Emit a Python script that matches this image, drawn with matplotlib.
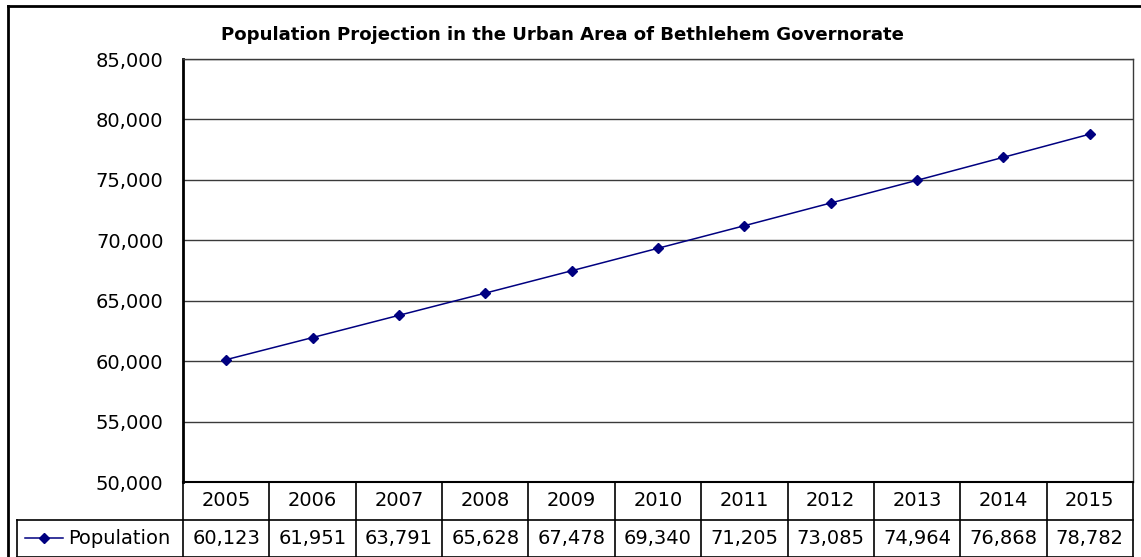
import matplotlib
matplotlib.use("Agg")
import matplotlib.pyplot as plt
from matplotlib.lines import Line2D
from matplotlib.transforms import blended_transform_factory

years = ["2005", "2006", "2007", "2008", "2009", "2010",
         "2011", "2012", "2013", "2014", "2015"]
population = [60123, 61951, 63791, 65628, 67478, 69340,
              71205, 73085, 74964, 76868, 78782]
series_name = "Population"
title = "Population Projection in the Urban Area of Bethlehem Governorate"
y_ticks = [50000, 55000, 60000, 65000, 70000, 75000, 80000, 85000]

W, H = 1141, 557
fig = plt.figure(figsize=(W / 100, H / 100), dpi=100)
plt.rcParams["font.family"] = ["DejaVu Sans"]
FS = 14

# plot area in pixel coordinates
L, R, T, B = 183, 1133, 59, 482
ax = fig.add_axes([L / W, 1 - B / H, (R - L) / W, (B - T) / H])

line_col = "#000080"
x = list(range(len(years)))
ax.plot(x, population, color=line_col, lw=1.1, marker="D", ms=5,
        markerfacecolor=line_col, markeredgecolor=line_col)

ax.set_xlim(-0.5, len(years) - 0.5)
ax.set_ylim(y_ticks[0], y_ticks[-1])
ax.set_yticks(y_ticks)
ax.set_yticklabels([f"{v:,}" for v in y_ticks], fontsize=FS)
ax.tick_params(axis="y", length=0, pad=14)
ax.set_xticks([])
for v in y_ticks[1:]:
    ax.axhline(v, color="#3a3a3a", lw=1.0, zorder=0)

for side in ("top", "right"):
    ax.spines[side].set_color("#3a3a3a")
    ax.spines[side].set_linewidth(1.0)
ax.spines["left"].set_linewidth(2.0)
ax.spines["left"].set_color("black")
ax.spines["bottom"].set_linewidth(1.5)
ax.spines["bottom"].set_color("black")

# data table below the plot area
row_h = 37.5 / (B - T)
tr = blended_transform_factory(ax.transData, ax.transAxes)
tr_ax = ax.transAxes
lw_t = 1.2
n = len(years)
x_leg = -(L - 17) / (R - L)
# horizontal rules
ax.add_line(Line2D([x_leg, 1], [-row_h, -row_h], transform=tr_ax,
                   color="black", lw=lw_t, clip_on=False))
ax.add_line(Line2D([x_leg, 1], [-2 * row_h, -2 * row_h], transform=tr_ax,
                   color="black", lw=lw_t, clip_on=False))
# vertical rules
for i in range(n + 1):
    ax.add_line(Line2D([i - 0.5, i - 0.5], [0, -2 * row_h], transform=tr,
                       color="black", lw=lw_t, clip_on=False))
ax.add_line(Line2D([x_leg] * 2, [-row_h, -2 * row_h], transform=tr_ax,
                   color="black", lw=lw_t, clip_on=False))

for i, (yr, val) in enumerate(zip(years, population)):
    ax.text(i, -0.5 * row_h, yr, transform=tr, ha="center", va="center",
            fontsize=FS)
    ax.text(i, -1.5 * row_h, f"{val:,}", transform=tr, ha="center", va="center",
            fontsize=FS)

# legend key in the first cell
kx0 = -(L - 25) / (R - L)
kx1 = -(L - 63) / (R - L)
ax.add_line(Line2D([kx0, kx1], [-1.5 * row_h] * 2, transform=tr_ax,
                   color=line_col, lw=1.1, clip_on=False))
ax.add_line(Line2D([(kx0 + kx1) / 2], [-1.5 * row_h], transform=tr_ax,
                   color=line_col, marker="D", ms=5, clip_on=False))
ax.text(-(L - 68) / (R - L), -1.5 * row_h, series_name, transform=tr_ax,
        ha="left", va="center", fontsize=FS)

# title
fig.text(562 / W, 1 - 35 / H, title, ha="center", va="center",
         fontsize=13.1, fontweight="bold")

# outer chart frame
fig.add_artist(Line2D([8 / W, 8 / W], [0, 1 - 6 / H], transform=fig.transFigure,
                      color="black", lw=2.0))
fig.add_artist(Line2D([8 / W, 1], [1 - 6 / H, 1 - 6 / H], transform=fig.transFigure,
                      color="black", lw=2.0))

fig.savefig("out.png", dpi=100)
